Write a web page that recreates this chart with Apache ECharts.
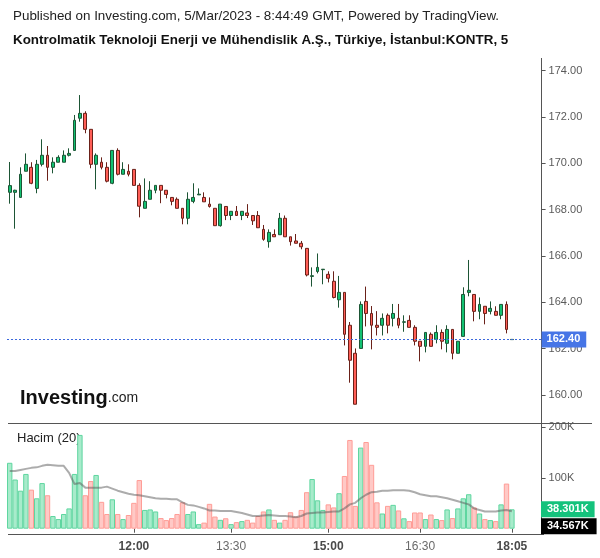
<!DOCTYPE html>
<html><head><meta charset="utf-8">
<script src="https://cdn.jsdelivr.net/npm/echarts@6/dist/echarts.min.js"></script>
<style>html,body{margin:0;padding:0;background:#fff}#c{width:600px;height:558px}</style>
</head><body><div id="c"></div>
<script>
// ---- data ----
const skippedTimes = ['15:45', '17:55', '18:00'];
const tickLabels = ['12:00', '13:30', '15:00', '16:30', '18:05'];
const boldTickLabels = ['12:00', '15:00', '18:05'];
const priceTicks = [160, 162, 164, 166, 168, 170, 172, 174];
const volumeTicks = [100, 200];

const opens = [168.75,168.75,168.53,169.66,169.83,168.92,169.96,170.35,169.83,170.05,
170.05,170.35,170.56,171.95,172.16,171.47,169.96,170.05,169.83,169.14,
170.56,169.53,169.66,169.74,169.05,168.06,168.45,168.84,169.05,168.84,
168.53,168.45,168.06,167.63,168.36,168.64,168.53,168.24,168.06,167.31,
168.14,167.75,167.93,167.75,167.86,167.75,167.75,167.15,166.62,166.93,
166.92,167.63,166.83,166.65,166.55,166.33,165.12,165.33,165.41,165.21,
164.91,164.11,164.43,163.01,161.80,162.01,164.04,163.52,163.01,163.01,
163.44,163.31,163.31,163.14,163.22,162.92,162.32,162.10,162.62,162.40,
162.70,162.23,162.83,161.80,162.53,164.43,164.34,163.61,163.83,163.61,
163.61,163.44,163.91,162.39];
const closes = [169.04,168.84,169.53,169.96,169.14,169.96,170.35,169.83,170.05,170.26,
170.35,170.43,171.86,172.16,171.47,169.96,170.35,169.83,169.23,170.56,
169.53,169.74,169.53,169.05,168.15,168.36,168.84,169.05,168.84,168.66,
168.36,168.06,167.63,168.45,168.53,168.67,168.34,168.14,167.31,168.24,
167.75,167.93,167.75,167.93,167.75,167.52,167.22,166.72,167.02,166.83,
167.63,166.83,166.62,166.55,166.40,165.18,165.15,165.51,165.43,165.04,
164.21,164.43,162.62,161.50,159.60,163.91,163.52,163.01,162.92,163.31,
163.01,163.52,163.01,163.16,162.92,162.32,162.10,162.70,162.10,162.70,
162.32,162.83,161.80,162.32,164.34,164.52,163.61,163.91,163.52,163.74,
163.44,163.91,162.83,162.40];
const lows = [168.26,167.18,168.53,169.66,169.10,168.71,169.87,169.25,169.57,170.05,
170.05,170.30,170.56,171.80,171.30,169.79,168.88,169.74,169.18,169.10,
169.48,169.53,169.44,169.05,167.67,168.06,168.45,168.71,168.28,168.49,
168.19,168.06,167.37,167.37,168.28,168.64,168.34,168.09,167.31,167.27,
167.55,167.55,167.75,167.55,167.64,167.34,167.22,166.66,166.36,166.83,
166.92,166.83,166.45,166.55,166.29,165.12,164.68,165.25,164.78,164.86,
164.17,163.77,162.14,160.53,159.60,162.01,162.96,161.97,162.57,162.57,
162.66,162.96,162.88,162.73,162.92,162.14,161.45,161.84,162.10,162.23,
161.97,161.84,161.54,161.80,162.53,164.26,163.18,163.27,163.05,163.48,
163.44,163.27,162.66,162.39];
const highs = [170.06,168.86,169.83,170.43,170.05,170.15,171.04,170.75,170.26,170.35,
170.56,170.65,172.09,172.95,172.25,171.47,170.43,170.26,170.05,170.56,
170.65,170.05,169.96,169.74,169.14,169.35,169.23,169.05,169.05,168.84,
168.53,168.53,168.06,168.75,169.14,168.92,168.75,168.53,168.06,168.24,
168.14,167.93,168.16,167.93,168.24,167.75,167.94,167.34,167.15,167.15,
167.86,167.75,166.83,166.95,166.65,166.33,165.51,166.11,165.43,165.34,
165.34,165.14,164.43,163.15,162.01,164.04,164.68,163.84,163.62,163.52,
163.52,163.93,163.93,163.44,163.44,163.01,162.32,162.70,162.70,163.01,
162.83,163.01,162.83,162.32,164.65,165.83,164.34,164.21,163.83,164.04,
163.83,163.91,164.04,162.40];
// volume in thousands
const volumes = [130,97,75,108,77,60,90,66,25,19,
29,40,108,185,66,94,106,53,29,58,
29,19,27,51,96,37,38,34,21,17,
21,29,52,29,34,9,12,49,24,17.5,
20.6,9,13,15,17.5,12,25,34,38,17.5,
12,17.5,32.5,24,37,72,98,56,37,48,
42,70,104,175,45,160,171,126,52,30,
45,47,36,20.5,15,32,32,19,28,19,
17,38,21,40,60,68,42,30,19,17,
15,48,89,38.301];
// 20-period volume moving average (thousands)
const volumeMA = [114,114,116,118,120,121,124,126,125,124,
124,110,88,90,81,81,81,81,83,79,
75,72,69,67,66,64,62,60,59,59,
58,58,52,47,46,43,40,36,36,35,
35,35,33,31,28,25,25,26,27,26,
25,25,24,22.5,25,30,31,32,32,33,
34,34,40,48,51,60,67,72,73,75,
75,76,76,76,75,72,68,66,64,64,
62,60,57,54,51,48,40,37,34,34,
34,36,37,34.567];
const lastPrice = 162.40;
const lastVolume = 38.301;
const lastVolumeMA = 34.567;

// ---- build ----
const times = [];
for (let m = 10 * 60 + 5; times.length < opens.length; m += 5) {
  const t = String(Math.floor(m / 60)).padStart(2, '0') + ':' + String(m % 60).padStart(2, '0');
  if (!skippedTimes.includes(t)) times.push(t);
}
const axisCats = times.concat(['', '', '', '', '']);
const FONT = '"Liberation Sans", Arial, sans-serif';
const UP = '#12c172', DOWN = '#ff5e57';
const upVol = { color: '#a8ebcb', borderColor: '#5fd6a0', borderWidth: 1 };
const downVol = { color: '#ffc9c6', borderColor: '#ff9d97', borderWidth: 1 };

const chart = echarts.init(document.getElementById('c'), null, { renderer: 'canvas' });
const gridL = 7, gridR = 58.4;
const option = {
  animation: false,
  textStyle: { fontFamily: FONT },
  grid: [
    { left: gridL, right: gridR, top: 58, bottom: 135 },
    { left: gridL, right: gridR, top: 423, bottom: 29.3 }
  ],
  xAxis: [
    { type: 'category', data: axisCats, gridIndex: 0, show: false, boundaryGap: true },
    {
      type: 'category', data: axisCats, gridIndex: 1, boundaryGap: true, offset: 5,
      axisLine: { show: false },
      axisTick: { show: true, alignWithLabel: true, length: 4, lineStyle: { color: '#555' },
        interval: (i, v) => tickLabels.includes(v) },
      axisLabel: {
        interval: (i, v) => tickLabels.includes(v), margin: 7,
        formatter: v => boldTickLabels.includes(v) ? '{b|' + v + '}' : '{n|' + v + '}',
        rich: {
          b: { fontFamily: FONT, fontSize: 12, fontWeight: 'bold', color: '#4a4a4a' },
          n: { fontFamily: FONT, fontSize: 12, color: '#6a6a6a' }
        }
      }
    }
  ],
  yAxis: [
    {
      type: 'value', gridIndex: 0, position: 'right', min: 158.79, max: 174.55,
      splitLine: { show: false }, axisLine: { show: false },
      axisTick: { show: true, length: 4, customValues: priceTicks, lineStyle: { color: '#555' } },
      axisLabel: { customValues: priceTicks, formatter: v => v.toFixed(2), color: '#5a5a5a',
        fontSize: 11, margin: 7, fontFamily: FONT }
    },
    {
      type: 'value', gridIndex: 1, position: 'right', min: 0, max: 208.5,
      splitLine: { show: false }, axisLine: { show: false },
      axisTick: { show: true, length: 4, customValues: volumeTicks, lineStyle: { color: '#555' } },
      axisLabel: { customValues: volumeTicks, formatter: v => v + 'K', color: '#5a5a5a',
        fontSize: 11, margin: 7, fontFamily: FONT }
    }
  ],
  series: [
    {
      type: 'candlestick', xAxisIndex: 0, yAxisIndex: 0, barWidth: 3.4,
      data: opens.map((o, i) => [o, closes[i], lows[i], highs[i]]),
      itemStyle: { color: UP, color0: DOWN, borderColor: '#1d5535', borderColor0: '#6a2119', borderWidth: 1 },
      markLine: {
        symbol: 'none', silent: true, animation: false,
        lineStyle: { color: '#3b68dc', type: [2, 2], width: 1 },
        label: { position: 'end', distance: 0, formatter: lastPrice.toFixed(2), color: '#fff',
          fontWeight: 'bold', fontSize: 11, fontFamily: FONT, backgroundColor: '#4675e6',
          padding: [3, 6, 2, 5] },
        data: [{ yAxis: lastPrice }]
      }
    },
    {
      type: 'bar', xAxisIndex: 1, yAxisIndex: 1, barCategoryGap: '0%',
      data: volumes.map((v, i) => ({ value: v, itemStyle: closes[i] >= opens[i] ? upVol : downVol }))
    },
    {
      type: 'line', xAxisIndex: 1, yAxisIndex: 1, data: volumeMA, symbol: 'none', smooth: false,
      lineStyle: { color: 'rgba(90,90,90,0.5)', width: 2 }, z: 5
    }
  ],
  graphic: [
    { type: 'text', left: 13, top: 10, style: { text: 'Published on Investing.com, 5/Mar/2023 - 8:44:49 GMT, Powered by TradingView.', font: '13.4px ' + FONT, fill: '#222' } },
    { type: 'text', left: 13, top: 34, style: { text: 'Kontrolmatik Teknoloji Enerji ve Mühendislik A.Ş., Türkiye, İstanbul:KONTR, 5', font: 'bold 13.4px ' + FONT, fill: '#111' } },
    { type: 'text', left: 20, top: 388, style: { rich: {
        a: { fontFamily: FONT, fontSize: 20, fontWeight: 'bold', fill: '#111', color: '#111' },
        c: { fontFamily: FONT, fontSize: 14, fill: '#222', color: '#222' } },
        text: '{a|Investing}{c|.com}' } },
    { type: 'text', left: 17, top: 432, style: { text: 'Hacim (20)', font: '13px ' + FONT, fill: '#222' } },
    { type: 'line', shape: { x1: 8, y1: 423.5, x2: 592, y2: 423.5 }, style: { stroke: '#555', lineWidth: 1 } },
    { type: 'line', shape: { x1: 8, y1: 534.5, x2: 544, y2: 534.5 }, style: { stroke: '#555', lineWidth: 1 } },
    { type: 'line', shape: { x1: 541.5, y1: 58, x2: 541.5, y2: 534.5 }, style: { stroke: '#555', lineWidth: 1 } }
  ]
};
chart.setOption(option);

// last-value tags on the volume scale
const yVol = chart.convertToPixel({ yAxisIndex: 1 }, lastVolume);
chart.setOption({ graphic: option.graphic.concat([
  { type: 'text', x: 541, y: yVol, z: 10, style: { text: lastVolume.toFixed(3) + 'K', fill: '#fff',
    font: 'bold 11px ' + FONT, backgroundColor: '#14c27c', padding: [3, 6, 2, 6], verticalAlign: 'middle' } },
  { type: 'text', x: 541, y: yVol + 17, z: 10, style: { text: lastVolumeMA.toFixed(3) + 'K', fill: '#fff',
    font: 'bold 11px ' + FONT, backgroundColor: '#000', padding: [3, 8, 2, 6], verticalAlign: 'middle' } }
]) }, { replaceMerge: ['graphic'] });
</script>
</body></html>
